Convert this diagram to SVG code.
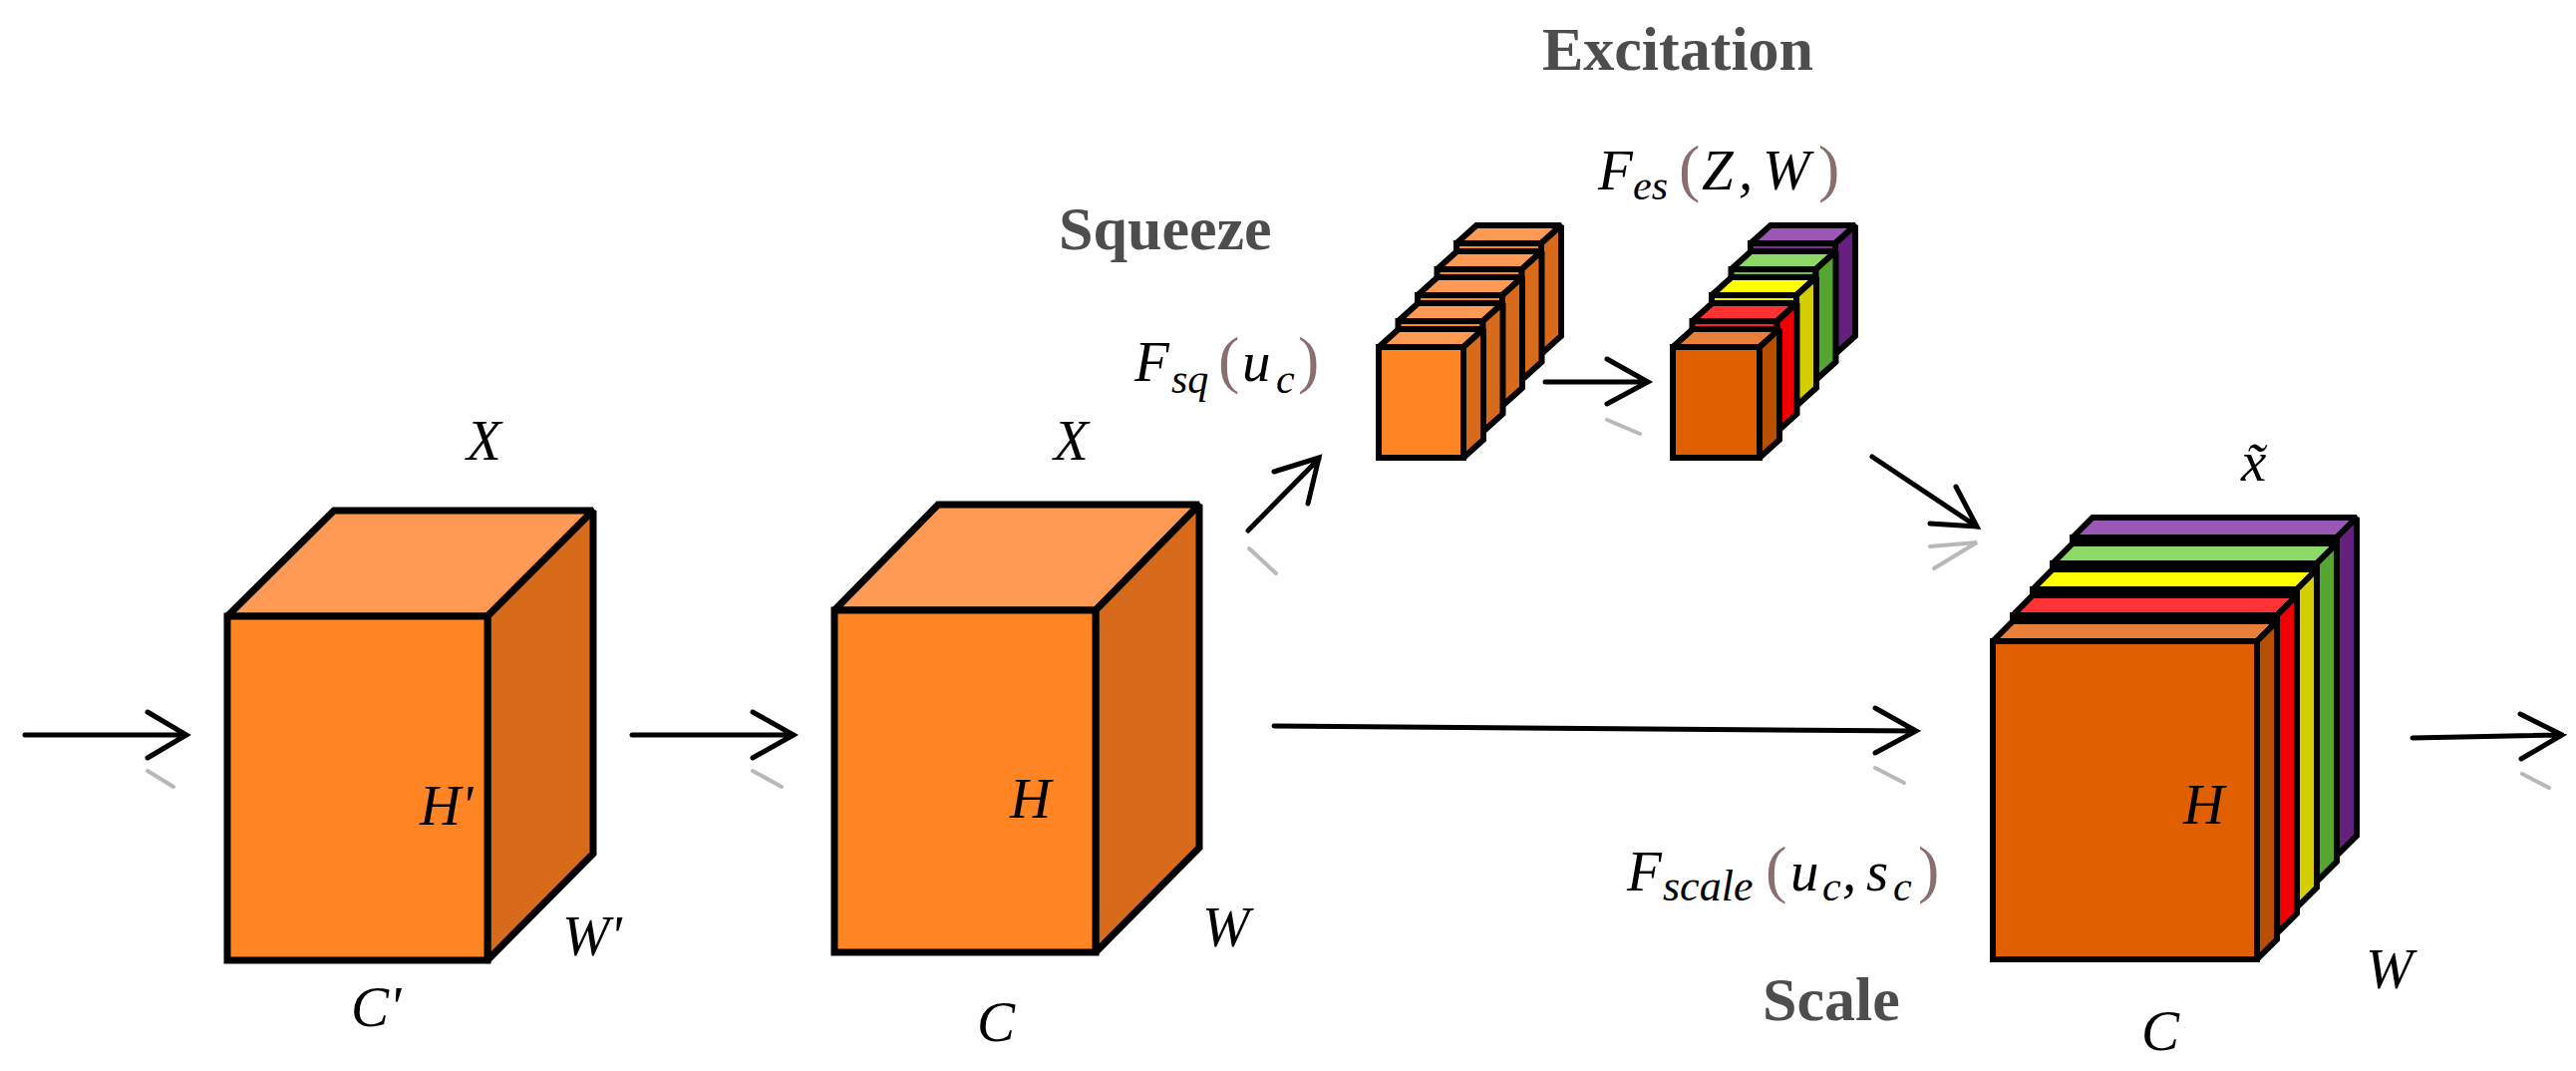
<svg xmlns="http://www.w3.org/2000/svg" width="2584" height="1074" viewBox="0 0 2584 1074">
<style>
.m{font-family:"Liberation Serif","Times New Roman",serif;font-style:italic;fill:#000;font-size:57px}
.sub{font-size:42px}
.p{font-family:"Liberation Serif",serif;font-style:normal;fill:#8a6e6e;font-size:64px}
.t{font-family:"Liberation Serif","Times New Roman",serif;font-weight:bold;fill:#4d4d4d;font-size:62px}
.cb{stroke:#000;stroke-width:7;stroke-linejoin:miter;stroke-miterlimit:2}
.cs{stroke:#000;stroke-width:6;stroke-linejoin:miter;stroke-miterlimit:2}
.arr{fill:none;stroke:#000;stroke-width:5;stroke-linecap:round;stroke-linejoin:miter}
.ref{fill:none;stroke:#a0a0a0;stroke-width:4;stroke-linecap:round;opacity:0.75}
</style>
<rect width="2584" height="1074" fill="#fff"/>

<g id="cube-input">
<polygon class="cb" fill="#FF9A55" points="228,618 335,512 595,512 489,618"/>
<polygon class="cb" fill="#D76A1B" points="489,618 595,512 595,856 489,963"/>
<rect class="cb" fill="#FF8424" x="228" y="618" width="261" height="345"/>
<text class="m" x="468" y="461">X</text>
<text class="m" x="421" y="827">H'</text>
<text class="m" x="564" y="958">W'</text>
<text class="m" x="352" y="1029">C'</text>
</g>

<g id="cube-u">
<polygon class="cb" fill="#FF9A55" points="837,612 941,506 1203,506 1099,612"/>
<polygon class="cb" fill="#D76A1B" points="1099,612 1203,506 1203,850 1099,955"/>
<rect class="cb" fill="#FF8424" x="837" y="612" width="262" height="343"/>
<text class="m" x="1057" y="461">X</text>
<text class="m" x="1013" y="820">H</text>
<text class="m" x="1206" y="949">W</text>
<text class="m" x="980" y="1044">C</text>
</g>

<g id="squeeze-stack">
<g transform="translate(1461,244)"><rect class="cs" fill="#FF8424" width="85" height="111"/><polygon class="cs" fill="#FF9A55" points="0,0 20,-18 105,-18 85,0"/><polygon class="cs" fill="#D76A1B" points="85,0 105,-18 105,93 85,111"/></g>
<g transform="translate(1441.5,270)"><rect class="cs" fill="#FF8424" width="85" height="111"/><polygon class="cs" fill="#FF9A55" points="0,0 20,-18 105,-18 85,0"/><polygon class="cs" fill="#D76A1B" points="85,0 105,-18 105,93 85,111"/></g>
<g transform="translate(1422,296)"><rect class="cs" fill="#FF8424" width="85" height="111"/><polygon class="cs" fill="#FF9A55" points="0,0 20,-18 105,-18 85,0"/><polygon class="cs" fill="#D76A1B" points="85,0 105,-18 105,93 85,111"/></g>
<g transform="translate(1402.5,322)"><rect class="cs" fill="#FF8424" width="85" height="111"/><polygon class="cs" fill="#FF9A55" points="0,0 20,-18 105,-18 85,0"/><polygon class="cs" fill="#D76A1B" points="85,0 105,-18 105,93 85,111"/></g>
<g transform="translate(1383,348)"><rect class="cs" fill="#FF8424" width="85" height="111"/><polygon class="cs" fill="#FF9A55" points="0,0 20,-18 105,-18 85,0"/><polygon class="cs" fill="#D76A1B" points="85,0 105,-18 105,93 85,111"/></g>
</g>

<g id="excitation-stack">
<g transform="translate(1756,244)"><rect class="cs" fill="#7E2D9C" width="85" height="111"/><polygon class="cs" fill="#9A57B4" points="0,0 20,-18 105,-18 85,0"/><polygon class="cs" fill="#65207F" points="85,0 105,-18 105,93 85,111"/></g>
<g transform="translate(1736.5,270)"><rect class="cs" fill="#6CBF45" width="85" height="111"/><polygon class="cs" fill="#8CD967" points="0,0 20,-18 105,-18 85,0"/><polygon class="cs" fill="#55A531" points="85,0 105,-18 105,93 85,111"/></g>
<g transform="translate(1717,296)"><rect class="cs" fill="#F0EA00" width="85" height="111"/><polygon class="cs" fill="#FFFF00" points="0,0 20,-18 105,-18 85,0"/><polygon class="cs" fill="#D4CE00" points="85,0 105,-18 105,93 85,111"/></g>
<g transform="translate(1697.5,322)"><rect class="cs" fill="#FF2020" width="85" height="111"/><polygon class="cs" fill="#FF3333" points="0,0 20,-18 105,-18 85,0"/><polygon class="cs" fill="#EE0000" points="85,0 105,-18 105,93 85,111"/></g>
<g transform="translate(1678,348)"><rect class="cs" fill="#E05F00" width="87" height="111"/><polygon class="cs" fill="#E8803A" points="0,0 20,-18 107,-18 87,0"/><polygon class="cs" fill="#B84E00" points="87,0 107,-18 107,93 87,111"/></g>
</g>

<g id="cube-xtilde">
<g transform="translate(2079,539)"><rect class="cs" fill="#7E2D9C" width="265" height="319"/><polygon class="cs" fill="#9A57B4" points="0,0 20,-20 285,-20 265,0"/><polygon class="cs" fill="#65207F" points="265,0 285,-20 285,299 265,319"/></g>
<g transform="translate(2059,565)"><rect class="cs" fill="#6CBF45" width="265" height="319"/><polygon class="cs" fill="#8CD967" points="0,0 20,-20 285,-20 265,0"/><polygon class="cs" fill="#55A531" points="265,0 285,-20 285,299 265,319"/></g>
<g transform="translate(2039,591)"><rect class="cs" fill="#F0EA00" width="265" height="319"/><polygon class="cs" fill="#FFFF00" points="0,0 20,-20 285,-20 265,0"/><polygon class="cs" fill="#D4CE00" points="265,0 285,-20 285,299 265,319"/></g>
<g transform="translate(2019,617)"><rect class="cs" fill="#FF2020" width="265" height="319"/><polygon class="cs" fill="#FF3333" points="0,0 20,-20 285,-20 265,0"/><polygon class="cs" fill="#EE0000" points="265,0 285,-20 285,299 265,319"/></g>
<g transform="translate(1999,643)"><rect class="cs" fill="#E05F00" width="265" height="319"/><polygon class="cs" fill="#E8803A" points="0,0 20,-20 285,-20 265,0"/><polygon class="cs" fill="#B84E00" points="265,0 285,-20 285,299 265,319"/></g>
<text class="m" x="2248" y="482">x̃</text>
<text class="m" x="2190" y="826">H</text>
<text class="m" x="2373" y="991">W</text>
<text class="m" x="2148" y="1053">C</text>
</g>

<g id="labels">
<text class="t" x="1062" y="250">Squeeze</text>
<text class="t" x="1547" y="70">Excitation</text>
<text class="t" x="1768" y="1023">Scale</text>
<text class="m" x="1138" y="382">F</text><text class="m sub" x="1175" y="394">sq</text><text class="p" x="1222" y="382">(</text><text class="m" x="1246" y="382">u</text><text class="m sub" x="1280" y="394">c</text><text class="p" x="1302" y="382">)</text>
<text class="m" x="1603" y="190">F</text><text class="m sub" x="1638" y="200">es</text><text class="p" x="1684" y="190">(</text><text class="m" x="1707" y="190">Z</text><text class="m" x="1744" y="190">,</text><text class="m" x="1768" y="190">W</text><text class="p" x="1824" y="190">)</text>
<text class="m" x="1632" y="893">F</text><text class="m sub" x="1668" y="903" style="font-size:44px">scale</text><text class="p" x="1771" y="893">(</text><text class="m" x="1796" y="893">u</text><text class="m sub" x="1828" y="903">c</text><text class="m" x="1848" y="893">,</text><text class="m" x="1872" y="893">s</text><text class="m sub" x="1899" y="903">c</text><text class="p" x="1924" y="893">)</text>
</g>

<g id="connectors">
<path class="arr" d="M25,737 H187 M148,714 L187,737 L148,760"/>
<path class="arr" d="M634,737 H796 M755,714 L796,737 L755,760"/>
<path class="arr" d="M1252,532 L1323,460 M1278,473 L1323,459 L1312,505"/>
<path class="arr" d="M1550,383 H1653 M1612,360 L1653,383 L1612,405"/>
<path class="arr" d="M1878,458 L1983,528 M1962,488 L1983,528 L1936,525"/>
<path class="arr" d="M1278,728 L1922,733 M1881,710 L1922,733 L1881,755"/>
<path class="arr" d="M2420,740 L2570,737 M2528,716 L2570,737 L2529,761"/>
<path class="ref" d="M148,773 L174,789"/>
<path class="ref" d="M755,773 L784,789"/>
<path class="ref" d="M1253,550 L1280,575"/>
<path class="ref" d="M1612,421 L1645,435"/>
<path class="ref" d="M1936,548 L1983,544 L1940,570"/>
<path class="ref" d="M1881,770 L1910,785"/>
<path class="ref" d="M2530,776 L2557,790"/>
</g>
</svg>
